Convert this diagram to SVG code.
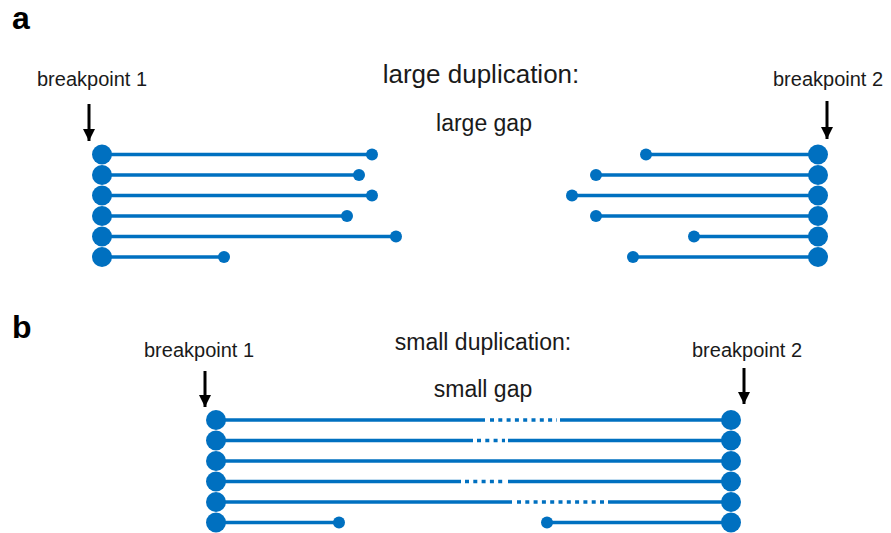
<svg xmlns="http://www.w3.org/2000/svg" width="891" height="533" viewBox="0 0 891 533">
  <defs>
    <style>
      text { font-family: "Liberation Sans", Arial, sans-serif; fill: #1a1a1a; }
      .panel { font-size: 32px; font-weight: bold; fill: #000; }
      .bp { font-size: 20px; }
      .title { font-size: 23px; text-anchor: middle; }
      .read { stroke: #0070C0; stroke-width: 3.5; fill: none; }
      .dots { stroke: #0070C0; stroke-width: 3.5; fill: none; stroke-dasharray: 4 4.3; }
      .big { fill: #0070C0; }
      .end { fill: #0070C0; }
      .arrow { stroke: #000; stroke-width: 3; }
    </style>
    <marker id="head" viewBox="0 0 12 12" refX="12" refY="6" markerWidth="12" markerHeight="12" markerUnits="userSpaceOnUse" orient="auto">
      <path d="M0,0 L12,6 L0,12 Z" fill="#000"/>
    </marker>
  </defs>

  <!-- Panel a -->
  <text class="panel" x="12" y="29">a</text>
  <text class="title" x="481" y="83" style="font-size:26px">large duplication:</text>
  <text class="title" x="484" y="131">large gap</text>

  <g id="a-breakpoint1">
    <text class="bp" x="37" y="86">breakpoint 1</text>
  </g>
  <g id="a-breakpoint2">
    <text class="bp" x="773" y="86">breakpoint 2</text>
  </g>

  <g id="a-left-reads">
    <line class="read" x1="102" y1="154.5" x2="372" y2="154.5"/>
    <line class="read" x1="102" y1="175" x2="359" y2="175"/>
    <line class="read" x1="102" y1="195.5" x2="372" y2="195.5"/>
    <line class="read" x1="102" y1="216" x2="347" y2="216"/>
    <line class="read" x1="102" y1="236.5" x2="396" y2="236.5"/>
    <line class="read" x1="102" y1="257" x2="224" y2="257"/>
    <circle class="end" cx="372" cy="154.5" r="6"/>
    <circle class="end" cx="359" cy="175" r="6"/>
    <circle class="end" cx="372" cy="195.5" r="6"/>
    <circle class="end" cx="347" cy="216" r="6"/>
    <circle class="end" cx="396" cy="236.5" r="6"/>
    <circle class="end" cx="224" cy="257" r="6"/>
    <circle class="big" cx="102" cy="154.5" r="10"/>
    <circle class="big" cx="102" cy="175" r="10"/>
    <circle class="big" cx="102" cy="195.5" r="10"/>
    <circle class="big" cx="102" cy="216" r="10"/>
    <circle class="big" cx="102" cy="236.5" r="10"/>
    <circle class="big" cx="102" cy="257" r="10"/>
  </g>

  <g id="a-right-reads">
    <line class="read" x1="646" y1="154.5" x2="818" y2="154.5"/>
    <line class="read" x1="596" y1="175" x2="818" y2="175"/>
    <line class="read" x1="572" y1="195.5" x2="818" y2="195.5"/>
    <line class="read" x1="596" y1="216" x2="818" y2="216"/>
    <line class="read" x1="694" y1="236.5" x2="818" y2="236.5"/>
    <line class="read" x1="633" y1="257" x2="818" y2="257"/>
    <circle class="end" cx="646" cy="154.5" r="6"/>
    <circle class="end" cx="596" cy="175" r="6"/>
    <circle class="end" cx="572" cy="195.5" r="6"/>
    <circle class="end" cx="596" cy="216" r="6"/>
    <circle class="end" cx="694" cy="236.5" r="6"/>
    <circle class="end" cx="633" cy="257" r="6"/>
    <circle class="big" cx="818" cy="154.5" r="10"/>
    <circle class="big" cx="818" cy="175" r="10"/>
    <circle class="big" cx="818" cy="195.5" r="10"/>
    <circle class="big" cx="818" cy="216" r="10"/>
    <circle class="big" cx="818" cy="236.5" r="10"/>
    <circle class="big" cx="818" cy="257" r="10"/>
  </g>

  <!-- Panel b -->
  <text class="panel" x="12" y="338">b</text>
  <text class="title" x="483" y="350">small duplication:</text>
  <text class="title" x="483" y="397">small gap</text>

  <g id="b-breakpoint1">
    <text class="bp" x="144" y="357">breakpoint 1</text>
  </g>
  <g id="b-breakpoint2">
    <text class="bp" x="692" y="357">breakpoint 2</text>
  </g>

  <g id="b-reads">
    <!-- row 1 -->
    <line class="read" x1="216" y1="420" x2="485" y2="420"/>
    <line class="dots" x1="490" y1="420" x2="557" y2="420"/>
    <line class="read" x1="560" y1="420" x2="731" y2="420"/>
    <!-- row 2 -->
    <line class="read" x1="216" y1="440.5" x2="473" y2="440.5"/>
    <line class="dots" x1="477" y1="440.5" x2="505" y2="440.5"/>
    <line class="read" x1="508" y1="440.5" x2="731" y2="440.5"/>
    <!-- row 3 -->
    <line class="read" x1="216" y1="461" x2="731" y2="461"/>
    <!-- row 4 -->
    <line class="read" x1="216" y1="481.5" x2="461" y2="481.5"/>
    <line class="dots" x1="465" y1="481.5" x2="505" y2="481.5"/>
    <line class="read" x1="508" y1="481.5" x2="731" y2="481.5"/>
    <!-- row 5 -->
    <line class="read" x1="216" y1="502" x2="512" y2="502"/>
    <line class="dots" x1="517" y1="502" x2="605" y2="502"/>
    <line class="read" x1="608" y1="502" x2="731" y2="502"/>
    <!-- row 6 -->
    <line class="read" x1="216" y1="522.5" x2="339" y2="522.5"/>
    <line class="read" x1="547" y1="522.5" x2="731" y2="522.5"/>
    <circle class="end" cx="339" cy="522.5" r="6"/>
    <circle class="end" cx="547" cy="522.5" r="6"/>
    <circle class="big" cx="216" cy="420" r="10"/>
    <circle class="big" cx="216" cy="440.5" r="10"/>
    <circle class="big" cx="216" cy="461" r="10"/>
    <circle class="big" cx="216" cy="481.5" r="10"/>
    <circle class="big" cx="216" cy="502" r="10"/>
    <circle class="big" cx="216" cy="522.5" r="10"/>
    <circle class="big" cx="731" cy="420" r="10"/>
    <circle class="big" cx="731" cy="440.5" r="10"/>
    <circle class="big" cx="731" cy="461" r="10"/>
    <circle class="big" cx="731" cy="481.5" r="10"/>
    <circle class="big" cx="731" cy="502" r="10"/>
    <circle class="big" cx="731" cy="522.5" r="10"/>
  </g>

  <!-- breakpoint arrows -->
  <g id="connectors">
    <line class="arrow" x1="89" y1="104" x2="89" y2="141" marker-end="url(#head)"/>
    <line class="arrow" x1="827" y1="101" x2="827" y2="139" marker-end="url(#head)"/>
    <line class="arrow" x1="205" y1="371" x2="205" y2="407" marker-end="url(#head)"/>
    <line class="arrow" x1="744" y1="368" x2="744" y2="404" marker-end="url(#head)"/>
  </g>
</svg>
